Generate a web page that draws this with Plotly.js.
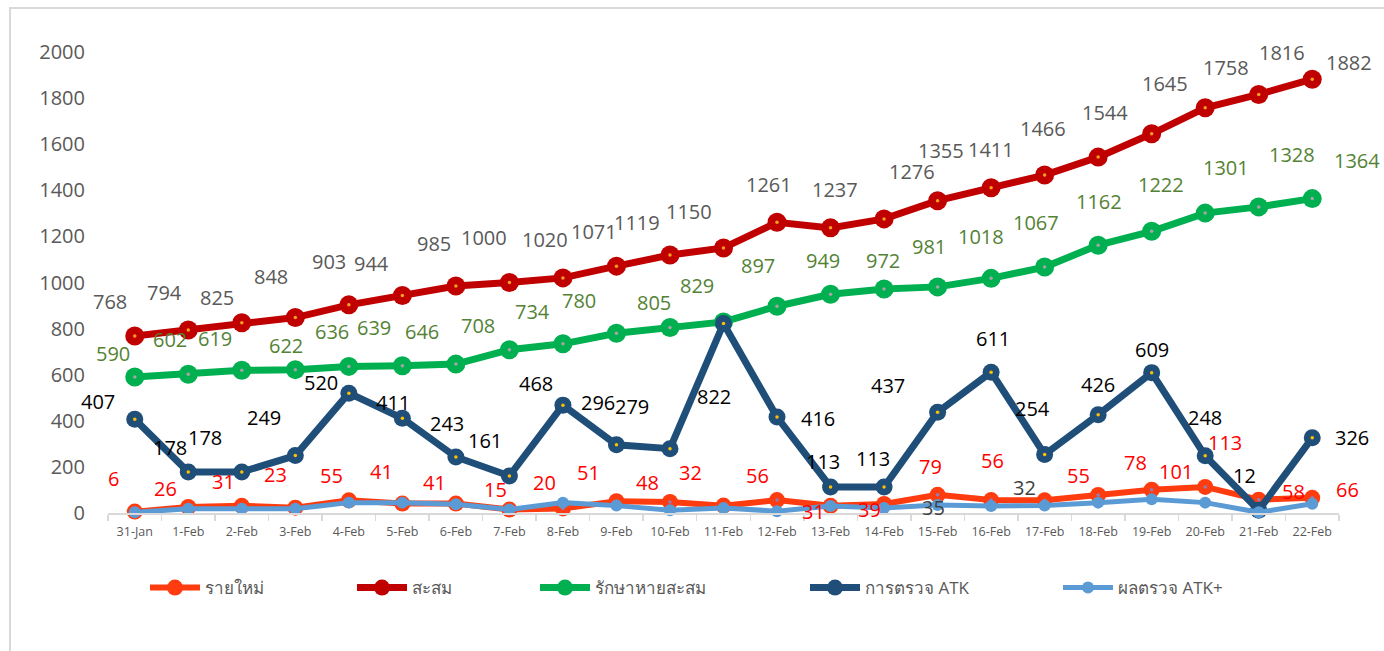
<!DOCTYPE html>
<html>
<head>
<meta charset="utf-8">
<script src="https://cdn.plot.ly/plotly-3.0.1.min.js"></script>
<style>
  html, body { margin: 0; padding: 0; background: #ffffff; }
  #chart { width: 1384px; height: 651px; }
</style>
</head>
<body>
<div id="chart"></div>
<script>
// ---------------- Data ----------------
const dates = ['31-Jan','1-Feb','2-Feb','3-Feb','4-Feb','5-Feb','6-Feb','7-Feb','8-Feb','9-Feb','10-Feb',
  '11-Feb','12-Feb','13-Feb','14-Feb','15-Feb','16-Feb','17-Feb','18-Feb','19-Feb','20-Feb','21-Feb','22-Feb'];
const newCases   = [6,26,31,23,55,41,41,15,20,51,48,32,56,31,39,79,56,55,78,101,113,58,66];
const cumulative = [768,794,825,848,903,944,985,1000,1020,1071,1119,1150,1261,1237,1276,1355,1411,1466,1544,1645,1758,1816,1882];
const recovered  = [590,602,619,622,636,639,646,708,734,780,805,829,897,949,972,981,1018,1067,1162,1222,1301,1328,1364];
const atkTests   = [407,178,178,249,520,411,243,161,468,296,279,822,416,113,113,437,611,254,426,609,248,12,326];
const atkPositive= [3,18,18,18,45,45,38,15,45,32,12,22,8,30,22,35,30,32,45,60,45,3,40];

const seriesNames = ['รายใหม่','สะสม','รักษาหายสะสม','การตรวจ ATK','ผลตรวจ ATK+'];
const yTicks = [0,200,400,600,800,1000,1200,1400,1600,1800,2000];

// ---------------- Label placement (pixel offsets, style only) ----------------
const newOff = [[-21,-33],[-23,-19],[-18,-24],[-20,-33],[-17,-25],[-21,-32],[-21,-21],[-14,-20],[-18,-26],[-28,-29],[-22,-19],[-33,-33],[-20,-25],[-17,6],[-15,5],[-7,-28],[1,-40],[34,-25],[37,-33],[24,-18],[20,-44],[35,-8],[35,-8]];
const cumOff = [[-25,-34],[-24,-37],[-25,-25],[-24,-41],[-20,-43],[-31,-32],[-22,-42],[-25,-45],[-18,-38],[-22,-35],[-33,-33],[-35,-36],[-8,-38],[4,-38],[28,-47],[3,-50],[0,-38],[-2,-47],[7,-45],[13,-50],[21,-40],[23,-42],[37,-17]];
const recOff = [[-22,-24],[-18,-35],[-27,-32],[-9,-24],[-17,-35],[-28,-38],[-34,-33],[-31,-24],[-30,-32],[-37,-33],[-16,-25],[-27,-36],[-19,-41],[-8,-34],[-1,-28],[-9,-40],[-10,-42],[-9,-45],[1,-44],[9,-47],[21,-46],[33,-52],[45,-38]];
const atkOff = [[-37,-18],[-18,-24],[-37,-34],[-31,-38],[-28,-11],[-9,-16],[-9,-33],[-24,-35],[-27,-22],[-18,-42],[-38,-42],[-10,73],[41,1],[-8,-25],[-11,-28],[-50,-27],[2,-34],[-12,-46],[0,-30],[0,-23],[0,-38],[-14,-35],[40,0]];
const atkPosOff = {15: [-4,3], 17: [-20,-18]};

// ---------------- Styles ----------------
const colors = ['#FF3C0F','#C00000','#00B050','#1F4E79','#5B9BD5'];
const dotColors = ['#8E7FB8','#F4A020','#A5A5A5','#FFC000',null];
const lineWidths = [6,7,7,7,5];
const markerSizes = [16,19,19,17,12];
const labelColors = ['#FF0000','#595959','#548235','#000000','#404040'];
const FONT = 'Open Sans, Noto Sans, DejaVu Sans, sans-serif';

const allSeries = [newCases, cumulative, recovered, atkTests, atkPositive];

const traces = [];
allSeries.forEach((vals, k) => {
  traces.push({
    type: 'scatter', mode: 'lines+markers',
    x: dates, y: vals, name: seriesNames[k],
    line: {color: colors[k], width: lineWidths[k]},
    marker: {color: colors[k], size: markerSizes[k], line: {width: 0}},
    cliponaxis: false,
    legend: k === 0 ? 'legend' : 'legend' + (k + 1),
    hoverinfo: 'x+y+name'
  });
  if (dotColors[k]) {
    traces.push({
      type: 'scatter', mode: 'markers', x: dates, y: vals,
      marker: {color: dotColors[k], size: 3.5},
      showlegend: false, hoverinfo: 'skip', cliponaxis: false
    });
  }
});

// ---------------- Data labels as annotations ----------------
const annotations = [];
function addLabels(vals, offs, color) {
  vals.forEach((v, i) => {
    const o = offs[i];
    if (!o) return;
    annotations.push({
      x: dates[i], y: v, xref: 'x', yref: 'y',
      text: String(v), showarrow: false,
      xshift: o[0], yshift: -o[1],
      font: {family: FONT, size: 20, color: color}
    });
  });
}
addLabels(newCases, newOff, labelColors[0]);
addLabels(cumulative, cumOff, labelColors[1]);
addLabels(recovered, recOff, labelColors[2]);
addLabels(atkTests, atkOff, labelColors[3]);
addLabels(atkPositive, atkPosOff, labelColors[4]);

// ---------------- Layout ----------------
const plotL = 108, plotR = 1339, plotT = 52, plotB = 513;
const W = 1384, H = 651;
const pw = plotR - plotL, ph = plotB - plotT;
const px = p => (p - plotL) / pw;
const py = p => (plotB - p) / ph;

const legendXs = [145, 352, 535, 805, 1058];
const legendBase = {
  orientation: 'h', xanchor: 'left', yanchor: 'middle', y: py(588),
  font: {family: FONT, size: 17, color: '#595959'},
  bgcolor: 'rgba(0,0,0,0)', itemwidth: 50, itemclick: false, itemdoubleclick: false
};

const layout = {
  width: W, height: H,
  margin: {l: plotL, r: W - plotR, t: plotT, b: H - plotB, pad: 0},
  paper_bgcolor: '#ffffff', plot_bgcolor: '#ffffff',
  font: {family: FONT, color: '#595959'},
  showlegend: true,
  xaxis: {
    type: 'category', range: [-0.5, dates.length - 0.5],
    showgrid: false, zeroline: false,
    showline: true, linecolor: '#D9D9D9', linewidth: 2,
    ticks: 'outside', tickson: 'boundaries', ticklen: 6, tickcolor: '#D9D9D9', tickwidth: 1.5,
    ticklabelstandoff: 6,
    tickfont: {family: FONT, size: 12.5, color: '#595959'},
    tickangle: 0, fixedrange: true
  },
  yaxis: {
    range: [0, 2000], tickmode: 'array', tickvals: yTicks, ticktext: yTicks.map(String),
    showgrid: false, zeroline: false, showline: false,
    ticks: '', ticklabelstandoff: 22,
    tickfont: {family: FONT, size: 20, color: '#595959'},
    fixedrange: true
  },
  annotations: annotations,
  shapes: [{
    type: 'rect', xref: 'paper', yref: 'paper',
    x0: px(10), x1: px(W + 50), y0: py(H + 50), y1: py(8),
    line: {color: '#D9D9D9', width: 2}, fillcolor: 'rgba(0,0,0,0)', layer: 'below'
  }]
};
legendXs.forEach((lx, k) => {
  const key = k === 0 ? 'legend' : 'legend' + (k + 1);
  layout[key] = Object.assign({}, legendBase, {x: px(lx)});
});

Plotly.newPlot('chart', traces, layout, {displayModeBar: false, staticPlot: true});
</script>
</body>
</html>
